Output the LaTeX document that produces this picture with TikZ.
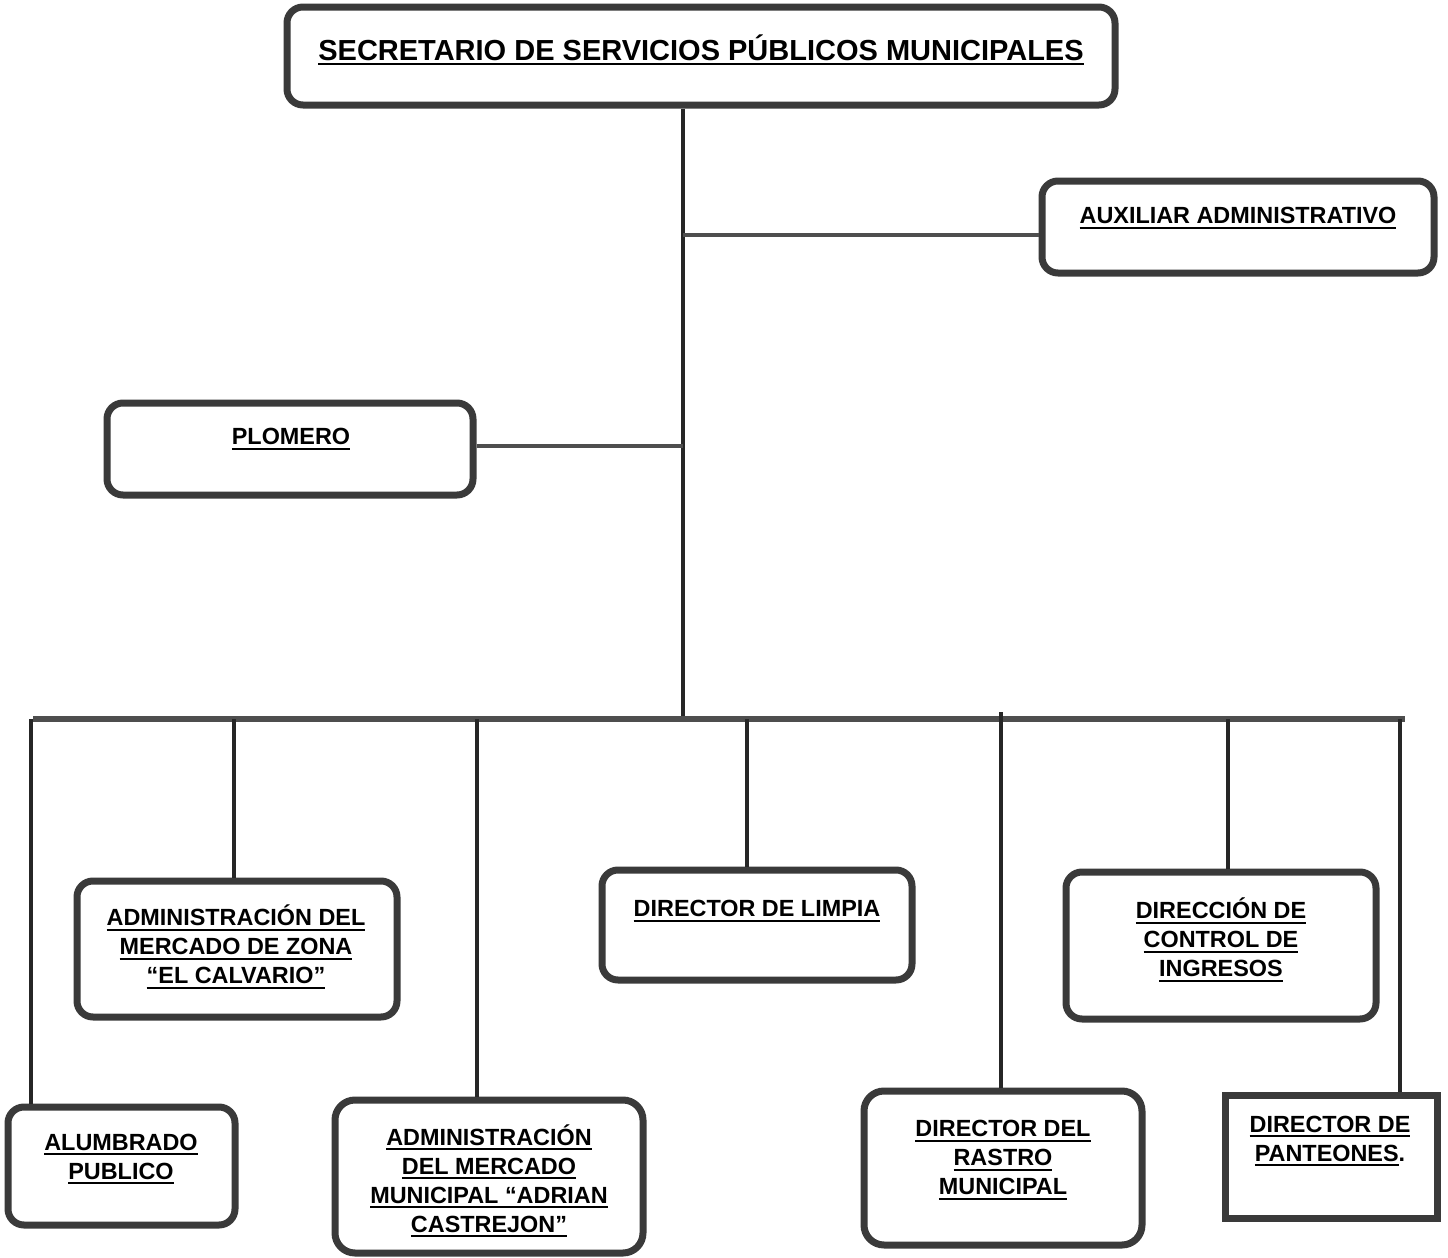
\documentclass[tikz,border=0pt]{standalone}
\usepackage{fontspec}
\setmainfont{Liberation Sans}
\usetikzlibrary{positioning}
\definecolor{boxgray}{HTML}{3A3A3A}
\definecolor{linegray}{HTML}{4E4E4E}
\newcommand{\ulline}[1]{\leavevmode\setbox0\hbox{#1}\rlap{\rule[-2.4pt]{\wd0}{1pt}}\box0}
\begin{document}
\begin{tikzpicture}[x=0.5pt, y=-0.5pt,
  box/.style={draw=boxgray, line width=3.5pt, rounded corners=8pt, fill=white},
  lbl/.style={font=\bfseries\fontsize{11.7}{14.5}\selectfont, align=center, inner sep=0pt},
  wire/.style={line width=2pt, draw=black!85}]
  \useasboundingbox (0,0) rectangle (1448,1258);
  % boxes
  \node[box, minimum width=414pt, minimum height=49pt] (secretario) at (701,56) {};
  \node[box, minimum width=196pt, minimum height=46pt] (aux) at (1238,227) {};
  \node[box, minimum width=183pt, minimum height=46pt] (plomero) at (290,449) {};
  \node[box, minimum width=160pt, minimum height=68pt] (zona) at (237,949) {};
  \node[box, minimum width=155pt, minimum height=55pt] (limpia) at (757,925) {};
  \node[box, minimum width=155pt, minimum height=73.5pt] (ingresos) at (1221,945.5) {};
  \node[box, minimum width=113.5pt, minimum height=59pt] (alumbrado) at (121.5,1166) {};
  \node[box, minimum width=154pt, minimum height=76.5pt, rounded corners=10pt] (municipal) at (489,1176.5) {};
  \node[box, minimum width=139pt, minimum height=77pt, rounded corners=10pt] (rastro) at (1003,1168) {};
  \node[box, minimum width=106pt, minimum height=61.5pt, sharp corners] (panteones) at (1331,1156.5) {};
  % labels
  \node[lbl, font=\bfseries\fontsize{14.5}{17}\selectfont] (secretario-t) at (701,50) {\ulline{SECRETARIO DE SERVICIOS PÚBLICOS MUNICIPALES}};
  \node[lbl] (aux-t) at (1238,218) {\ulline{AUXILIAR ADMINISTRATIVO}};
  \node[lbl] (plomero-t) at (291,439) {\ulline{PLOMERO}};
  \node[lbl] (zona-t) at (236,947) {\ulline{ADMINISTRACIÓN DEL}\\\ulline{MERCADO DE ZONA}\\\ulline{“EL CALVARIO”}};
  \node[lbl] (limpia-t) at (757,911) {\ulline{DIRECTOR DE LIMPIA}};
  \node[lbl] (ingresos-t) at (1221,940) {\ulline{DIRECCIÓN DE}\\\ulline{CONTROL DE}\\\ulline{INGRESOS}};
  \node[lbl] (alumbrado-t) at (121,1159) {\ulline{ALUMBRADO}\\\ulline{PUBLICO}};
  \node[lbl] (municipal-t) at (489,1181) {\ulline{ADMINISTRACIÓN}\\\ulline{DEL MERCADO}\\\ulline{MUNICIPAL “ADRIAN}\\\ulline{CASTREJON”}};
  \node[lbl] (rastro-t) at (1003,1160) {\ulline{DIRECTOR DEL}\\\ulline{RASTRO}\\\ulline{MUNICIPAL}};
  \node[lbl] (panteones-t) at (1330,1141) {\ulline{DIRECTOR DE}\\\ulline{PANTEONES}.};
  % connectors
  \coordinate (bus) at (683,719);
  \coordinate (barL) at (33,719);
  \coordinate (barR) at (1405,719);
  \draw[wire] (secretario.south -| bus) -- (bus);
  \draw[wire, line width=2.4pt, draw=linegray] ([yshift=-4pt]aux.west) -- ([yshift=-4pt]aux.west -| bus);
  \draw[wire, line width=2.4pt, draw=linegray] ([yshift=1.5pt]plomero.east) -- ([yshift=1.5pt]plomero.east -| bus);
  \draw[wire, line width=3pt, draw=linegray] (barL) -- (barR);
  \foreach \n/\x in {alumbrado/31, zona/234, municipal/477, limpia/747, rastro/1001, ingresos/1228, panteones/1400}
    \draw[wire] (\x,719) -- (\x,719 |- \n.north);
  \draw[wire] (1001,712) -- (1001,719);
\end{tikzpicture}
\end{document}
